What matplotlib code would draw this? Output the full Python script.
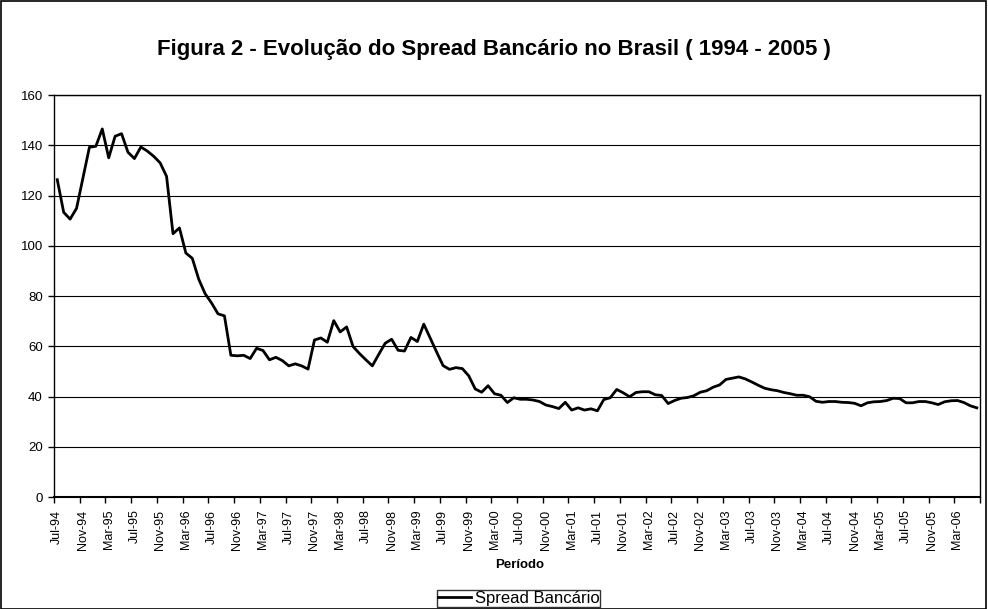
import matplotlib
matplotlib.use("Agg")
import matplotlib.pyplot as plt
from matplotlib.patches import Rectangle
import numpy as np

plt.rcParams['font.family'] = ['Liberation Sans', 'DejaVu Sans']

# monthly spread, Jul-94 .. Jun-06
spread = [
    126.3, 113.3, 110.6, 114.9, 127.0, 139.2, 139.6, 146.5, 135.0, 143.6,
    144.6, 137.2, 134.7, 139.3, 137.7, 135.6, 133.0, 127.6, 104.8, 107.1,
    97.1, 95.0, 86.7, 80.9, 77.2, 72.9, 72.1, 56.4, 56.2, 56.4,
    55.1, 59.2, 58.3, 54.6, 55.6, 54.3, 52.2, 53.0, 52.2, 50.9,
    62.5, 63.3, 61.6, 70.2, 65.7, 67.7, 59.9, 57.1, 54.6, 52.2,
    56.8, 61.2, 62.8, 58.4, 58.1, 63.5, 61.9, 68.8, 63.2, 57.7,
    52.3, 50.8, 51.5, 51.1, 48.2, 43.0, 41.7, 44.3, 41.1, 40.5,
    37.6, 39.5, 38.9, 38.9, 38.6, 38.0, 36.6, 36.0, 35.2, 37.7,
    34.6, 35.5, 34.6, 35.1, 34.3, 38.8, 39.5, 42.8, 41.5, 39.9,
    41.6, 41.9, 41.9, 40.7, 40.4, 37.2, 38.4, 39.3, 39.6, 40.3,
    41.7, 42.3, 43.7, 44.6, 46.8, 47.3, 47.8, 47.0, 45.8, 44.5,
    43.3, 42.7, 42.3, 41.6, 41.1, 40.5, 40.5, 39.9, 38.1, 37.7,
    38.0, 38.0, 37.7, 37.6, 37.3, 36.3, 37.5, 37.9, 38.0, 38.4,
    39.3, 39.2, 37.5, 37.5, 38.0, 38.0, 37.5, 36.8, 37.9, 38.3,
    38.4, 37.6, 36.3, 35.5,
]

tick_labels = [
    "Jul-94", "Nov-94", "Mar-95", "Jul-95", "Nov-95", "Mar-96", "Jul-96",
    "Nov-96", "Mar-97", "Jul-97", "Nov-97", "Mar-98", "Jul-98", "Nov-98",
    "Mar-99", "Jul-99", "Nov-99", "Mar-00", "Jul-00", "Nov-00", "Mar-01",
    "Jul-01", "Nov-01", "Mar-02", "Jul-02", "Nov-02", "Mar-03", "Jul-03",
    "Nov-03", "Mar-04", "Jul-04", "Nov-04", "Mar-05", "Jul-05", "Nov-05",
    "Mar-06",
]

fig = plt.figure(figsize=(9.88, 6.09), dpi=100)
fig.patches.append(Rectangle((0.001, 0.0), 0.997, 0.998, transform=fig.transFigure,
                             fill=False, edgecolor="black", linewidth=1.2))

ax = fig.add_axes([0.0547, 0.1839, 0.9372, 0.6601])

x = np.arange(len(spread))
ax.plot(x, spread, color="black", linewidth=2.0, label="Spread Bancário")

ax.set_xlim(-0.5, len(spread) - 0.5)
ax.set_ylim(0, 160)
ax.set_yticks(np.arange(0, 161, 20))
ax.yaxis.grid(True, color="black", linewidth=0.8)
ax.set_axisbelow(True)

# labels centred on categories, tick marks on category borders
ax.set_xticks(np.arange(0, len(spread), 4))
ax.set_xticklabels(tick_labels, rotation=90)
ax.set_xticks(np.arange(-0.5, len(spread), 4), minor=True)
ax.tick_params(axis="x", which="major", length=0, pad=9, labelsize=9)
ax.tick_params(axis="x", which="minor", length=4, width=1, direction="out")
ax.tick_params(axis="y", length=4, width=1, labelsize=9.5, direction="out", pad=4)

for side in ["left", "right", "top"]:
    ax.spines[side].set_linewidth(1)
ax.spines["bottom"].set_linewidth(1.5)

fig.text(0.5, 0.918, "Figura 2 - Evolução do Spread Bancário no Brasil ( 1994 - 2005 )",
         ha="center", va="center", fontsize=16, fontweight="bold")
fig.text(0.526, 0.072, "Período", ha="center", va="center", fontsize=9.5, fontweight="bold")

leg = fig.legend(loc="center", bbox_to_anchor=(0.525, 0.017), frameon=True,
                 fancybox=False, edgecolor="black", fontsize=12, handlelength=2.0,
                 handletextpad=0.2, borderpad=0.05, borderaxespad=0)
leg.get_frame().set_linewidth(1)

fig.savefig("out.png", dpi=100)
